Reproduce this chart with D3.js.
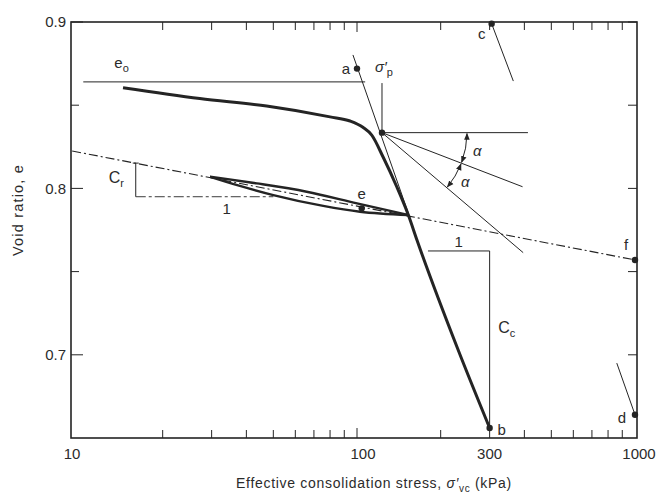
<!DOCTYPE html>
<html lang="en">

<head>
    <meta charset="UTF-8">
    <title>Casagrande construction - void ratio vs effective stress</title>
    <script src="https://cdn.jsdelivr.net/npm/d3@7"></script>
    <style>
        body {
            margin: 0;
            background: #fff;
        }

        svg text {
            font-family: "Liberation Sans", Arial, sans-serif;
            fill: #2b2b2b;
        }
    </style>
</head>

<body>
    <div id="chart"></div>

    <script>
        // Virgin loading curve: effective stress (kPa) and void ratio
        var loadStress = [14.4, 27.2, 47.3, 80, 94.4, 105, 113, 124, 139, 153, 164.3, 231, 300];
        var loadVoid = [0.8605, 0.854, 0.8495, 0.843, 0.8405, 0.8367, 0.832, 0.819, 0.801, 0.784, 0.769, 0.703, 0.656];

        // Unload-reload loop (both branches meet at the knee)
        var upperStress = [29.6, 43.6, 65.9, 100, 153];
        var upperVoid = [0.807, 0.803, 0.798, 0.791, 0.784];
        var lowerStress = [29.6, 37.9, 50, 75.6, 102.5, 153];
        var lowerVoid = [0.807, 0.8015, 0.796, 0.7895, 0.786, 0.784];

        // Recompression (Cr) line, dash-dot, out to point f
        var crStress = [9.45, 1000];
        var crVoid = [0.8225, 0.757];

        // Initial void ratio line e0
        var e0Stress = [10.36, 107];
        var e0Void = 0.864;

        // Extension of the virgin line through a
        var aLineStress = [96.7, 153.8];
        var aLineVoid = [0.8802, 0.784];

        // Short lines at c and d
        var cLineStress = [305, 365];
        var cLineVoid = [0.899, 0.8645];
        var dLineStress = [1000, 860];
        var dLineVoid = [0.664, 0.695];

        // Preconsolidation point and the construction lines from it
        var spStress = 123;
        var spVoid = 0.8335;
        var spTopVoid = 0.8633;
        var horizEndStress = 412;
        var tangentEnd = [394, 0.801];
        var bisectEnd = [396, 0.7614];

        // Cr and Cc slope triangles
        var crTriStress = [16, 50];
        var crTriVoid = [0.8152, 0.795];
        var ccTriStress = [180, 300];
        var ccTriVoid = [0.7624, 0.656];

        // Lettered points
        var pointNames = ["a", "b", "c", "d", "e", "f"];
        var pointStress = [100, 300, 305, 1000, 104, 1000];
        var pointVoid = [0.872, 0.656, 0.899, 0.664, 0.788, 0.757];

        // Axis ticks
        var xTickValues = [10, 100, 300, 1000];
        var xTickLabels = ["10", "100", "300", "1000"];
        var xMinorTicks = [20, 30, 40, 50, 60, 70, 80, 90, 200, 300, 400, 500, 600, 700, 800, 900];
        var yTickValues = [0.7, 0.8, 0.9];
        var yTickLabels = ["0.7", "0.8", "0.9"];
        var yMinorTicks = [0.75, 0.85];

        var width = 657, height = 498;
        var frame = { left: 71, right: 637, top: 22, bottom: 438 };
        var ink = "#242424";

        var svg = d3.select("#chart").append("svg")
            .attr("width", width)
            .attr("height", height);

        var x = d3.scaleLog().domain([10, 1000]).range([79, 635]);
        var y = d3.scaleLinear().domain([0.65, 0.9]).range([438, 22]);

        // arrow head for the alpha arcs
        svg.append("defs").append("marker")
            .attr("id", "arrow")
            .attr("viewBox", "0 0 10 10")
            .attr("refX", 9).attr("refY", 5)
            .attr("markerWidth", 7).attr("markerHeight", 7)
            .attr("markerUnits", "userSpaceOnUse")
            .attr("orient", "auto-start-reverse")
            .append("path")
            .attr("d", "M0,1 L10,5 L0,9 z")
            .attr("fill", ink);

        function seg(x1, y1, x2, y2, w, dash) {
            svg.append("line")
                .attr("x1", x1).attr("y1", y1)
                .attr("x2", x2).attr("y2", y2)
                .attr("stroke", ink)
                .attr("stroke-width", w || 1)
                .attr("stroke-dasharray", dash || null);
        }

        function curve(xs, ys, w) {
            var pts = xs.map((d, i) => [x(d), y(ys[i])]);
            svg.append("path")
                .attr("d", d3.line().curve(d3.curveMonotoneX)(pts))
                .attr("fill", "none")
                .attr("stroke", ink)
                .attr("stroke-width", w)
                .attr("stroke-linejoin", "round");
        }

        // ---- frame and ticks ----
        svg.append("rect")
            .attr("x", frame.left).attr("y", frame.top)
            .attr("width", frame.right - frame.left)
            .attr("height", frame.bottom - frame.top)
            .attr("fill", "none")
            .attr("stroke", ink)
            .attr("stroke-width", 1.6);

        xMinorTicks.concat([100]).forEach(v => {
            var len = v === 100 ? 10 : 8;
            seg(x(v), frame.bottom, x(v), frame.bottom - len, 1);
            seg(x(v), frame.top, x(v), frame.top + len, 1);
        });

        yTickValues.concat(yMinorTicks).forEach(v => {
            var len = yMinorTicks.includes(v) ? 8 : 12;
            seg(frame.left, y(v), frame.left + len, y(v), 1);
            seg(frame.right, y(v), frame.right - 9, y(v), 1);
        });

        svg.selectAll(".ylab").data(yTickValues).enter().append("text")
            .attr("x", 66)
            .attr("y", d => y(d))
            .attr("dy", "0.35em")
            .attr("text-anchor", "end")
            .style("font-size", "15px")
            .text((d, i) => yTickLabels[i]);

        svg.selectAll(".xlab").data(xTickValues).enter().append("text")
            .attr("x", d => x(d) + (d === 10 ? -7 : d === 1000 ? 4 : d === 100 ? 6 : 0))
            .attr("y", 459)
            .attr("text-anchor", "middle")
            .style("font-size", "15px")
            .text((d, i) => xTickLabels[i]);

        // axis titles
        var xt = svg.append("text")
            .attr("x", 374).attr("y", 488)
            .attr("text-anchor", "middle")
            .style("font-size", "14px")
            .style("letter-spacing", "0.7px");
        xt.append("tspan").text("Effective consolidation stress, ");
        xt.append("tspan").style("font-style", "italic").text("σ′");
        xt.append("tspan").attr("dy", 4).style("font-size", "10px").text("vc");
        xt.append("tspan").attr("dy", -4).text(" (kPa)");

        svg.append("text")
            .attr("transform", "translate(23,210) rotate(-90)")
            .attr("text-anchor", "middle")
            .style("font-size", "14.5px")
            .style("letter-spacing", "1.2px")
            .text("Void ratio, e");

        // ---- construction lines ----
        // e0 line
        seg(x(e0Stress[0]), y(e0Void), x(e0Stress[1]), y(e0Void), 1);

        // Cr dash-dot line
        seg(x(crStress[0]), y(crVoid[0]), x(crStress[1]), y(crVoid[1]), 1.1, "9,3,2,3");

        // virgin line extension through a, lines at c and d
        seg(x(aLineStress[0]), y(aLineVoid[0]), x(aLineStress[1]), y(aLineVoid[1]), 1);
        seg(x(cLineStress[0]), y(cLineVoid[0]), x(cLineStress[1]), y(cLineVoid[1]), 1);
        seg(x(dLineStress[0]), y(dLineVoid[0]), x(dLineStress[1]), y(dLineVoid[1]), 1);

        // from the preconsolidation point
        var px = x(spStress), py = y(spVoid);
        seg(px, py, px, y(spTopVoid), 1);
        seg(px, py, x(horizEndStress), py, 1);
        seg(px, py, x(tangentEnd[0]), y(tangentEnd[1]), 1);
        seg(px, py, x(bisectEnd[0]), y(bisectEnd[1]), 1);

        // alpha arcs between the horizontal, tangent and bisector
        var angT = Math.atan2(y(tangentEnd[1]) - py, x(tangentEnd[0]) - px);
        var angB = Math.atan2(y(bisectEnd[1]) - py, x(bisectEnd[0]) - px);
        var r = 85;
        [[0, angT], [angT, angB]].forEach(a => {
            var p = d3.path();
            p.arc(px, py, r, a[0] + 0.01, a[1] - 0.01);
            svg.append("path")
                .attr("d", p.toString())
                .attr("fill", "none")
                .attr("stroke", ink)
                .attr("stroke-width", 1)
                .attr("marker-start", "url(#arrow)")
                .attr("marker-end", "url(#arrow)");
            var mid = (a[0] + a[1]) / 2;
            svg.append("text")
                .attr("x", px + 97 * Math.cos(mid))
                .attr("y", py + 97 * Math.sin(mid))
                .attr("dy", "0.35em")
                .attr("text-anchor", "middle")
                .style("font-size", "15px")
                .style("font-style", "italic")
                .text("α");
        });

        // Cr triangle
        seg(x(crTriStress[0]), y(crTriVoid[0]), x(crTriStress[0]), y(crTriVoid[1]), 1);
        seg(x(crTriStress[0]) - 3, y(crTriVoid[0]), x(crTriStress[0]) + 3, y(crTriVoid[0]), 1);
        seg(x(crTriStress[0]), y(crTriVoid[1]), x(crTriStress[1]), y(crTriVoid[1]), 0.9, "10,3,3,3");

        // Cc triangle
        seg(x(ccTriStress[0]), y(ccTriVoid[0]), x(ccTriStress[1]), y(ccTriVoid[0]), 1);
        seg(x(ccTriStress[1]), y(ccTriVoid[0]), x(ccTriStress[1]), y(ccTriVoid[1]), 1);

        // ---- compression curves ----
        curve(loadStress, loadVoid, 3);
        curve(upperStress, upperVoid, 2.4);
        curve(lowerStress, lowerVoid, 2.4);

        // ---- points ----
        svg.append("circle").attr("cx", px).attr("cy", py).attr("r", 3.2).attr("fill", ink);
        svg.selectAll(".pt").data(pointNames).enter().append("circle")
            .attr("cx", (d, i) => x(pointStress[i]))
            .attr("cy", (d, i) => y(pointVoid[i]))
            .attr("r", 3.2)
            .attr("fill", ink);

        // label offsets for the lettered points
        var labelDx = { a: -11, b: 12, c: -10, d: -13, e: 0, f: -9 };
        var labelDy = { a: 0, b: 2, c: 10, d: 3, e: -15, f: -15 };
        svg.selectAll(".ptlab").data(pointNames).enter().append("text")
            .attr("x", (d, i) => x(pointStress[i]) + labelDx[d])
            .attr("y", (d, i) => y(pointVoid[i]) + labelDy[d])
            .attr("dy", "0.35em")
            .attr("text-anchor", "middle")
            .style("font-size", "15px")
            .text(d => d);

        // sigma'p label
        var sp = svg.append("text")
            .attr("x", px - 7).attr("y", y(spTopVoid) - 11)
            .style("font-size", "15px");
        sp.append("tspan").style("font-style", "italic").text("σ′");
        sp.append("tspan").attr("dy", 4).style("font-size", "11px").text("p");

        // e0 label
        var e0 = svg.append("text")
            .attr("x", x(13.4)).attr("y", y(0.8725))
            .style("font-size", "15px");
        e0.append("tspan").text("e");
        e0.append("tspan").attr("dy", 4).style("font-size", "11px").text("o");

        // Cr and Cc labels
        var crl = svg.append("text")
            .attr("x", x(12.8)).attr("y", y(0.8035))
            .style("font-size", "16px");
        crl.append("tspan").text("C");
        crl.append("tspan").attr("dy", 4).style("font-size", "11px").text("r");

        var ccl = svg.append("text")
            .attr("x", x(322)).attr("y", y(0.713))
            .style("font-size", "16px");
        ccl.append("tspan").text("C");
        ccl.append("tspan").attr("dy", 4).style("font-size", "11px").text("c");

        svg.append("text").attr("x", x(34)).attr("y", y(0.7845))
            .attr("text-anchor", "middle").style("font-size", "15px").text("1");
        svg.append("text").attr("x", x(232)).attr("y", y(0.7645))
            .attr("text-anchor", "middle").style("font-size", "15px").text("1");
    </script>
</body>

</html>
